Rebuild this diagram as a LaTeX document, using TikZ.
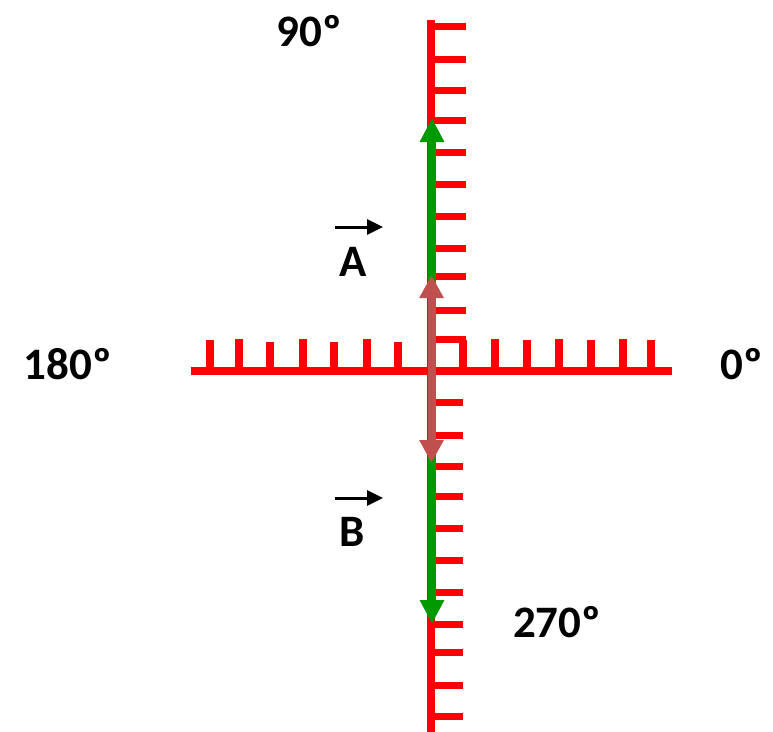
\documentclass[tikz,border=0pt]{standalone}
\usepackage{fontspec}
\setmainfont{Carlito}
\usetikzlibrary{arrows.meta}
\definecolor{axisred}{HTML}{FF0000}
\definecolor{vecgreen}{HTML}{009900}
\definecolor{vecbrown}{HTML}{C0504D}
\begin{document}
\begin{tikzpicture}[x=1pt,y=-1pt,
  axisline/.style={draw=axisred,line width=8pt},
  tickline/.style={draw=axisred,line width=7pt},
  greenvec/.style={draw=vecgreen,line width=8pt,-{Triangle[length=24pt,width=23pt]}},
  brownvec/.style={draw=vecbrown,line width=8pt,{Triangle[length=23pt,width=23pt]}-{Triangle[length=23pt,width=23pt]}},
  lbl/.style={font=\fontsize{45}{45}\selectfont\bfseries,text=black,inner sep=0pt},
  smallvec/.style={draw=black,line width=3pt,-{Triangle[length=16pt,width=15pt]}}]
\useasboundingbox (0,0) rectangle (773,731);
% axes
\coordinate (vtop) at (431,20);
\coordinate (vbot) at (431,735);
\coordinate (hleft) at (191,371);
\coordinate (hright) at (672,371);
\coordinate (O) at (432,371);
\draw[axisline] (vtop) -- (vbot);
\draw[tickline,line width=7.5pt] (hleft) -- (hright);
% ticks on vertical axis
\foreach \y in {26,59,90,120,152,184,216,248,276,310,339}
  \draw[tickline] (434,\y) -- (466,\y);
\foreach \y in {402,435,466,496,528,560,592,624,652,685,716}
  \draw[tickline] (434,\y) -- (463,\y);
% ticks on horizontal axis
\foreach \x/\t in {210/340,239/339,270/342,303/339,334/342,367/339,398/342,463/340,495/339,527/340,559/339,591/340,623/339,651/340}
  \draw[tickline,line width=8pt] (\x,370) -- (\x,\t);
% vectors
\coordinate (gA) at (432,118);
\coordinate (gB) at (432,624);
\coordinate (bA) at (431.5,275);
\coordinate (bB) at (431.5,463);
\draw[greenvec] (O) -- (gA);
\draw[greenvec] (O) -- (gB);
\draw[brownvec] (bB) -- (bA);
% labels
\node[lbl] (l90) at (309,31) {90º};
\node[lbl] (l180) at (68,364) {180º};
\node[lbl] (l0) at (742,364) {0º};
\node[lbl] (l270) at (557,622) {270º};
\node[lbl] (lA) at (353,262) {A};
\node[lbl] (lB) at (352,532) {B};
\coordinate (aS) at (335,227);
\coordinate (aE) at (383,227);
\coordinate (bS) at (335,498);
\coordinate (bE) at (383,498);
\draw[smallvec] (aS) -- (aE);
\draw[smallvec] (bS) -- (bE);
\end{tikzpicture}
\end{document}
